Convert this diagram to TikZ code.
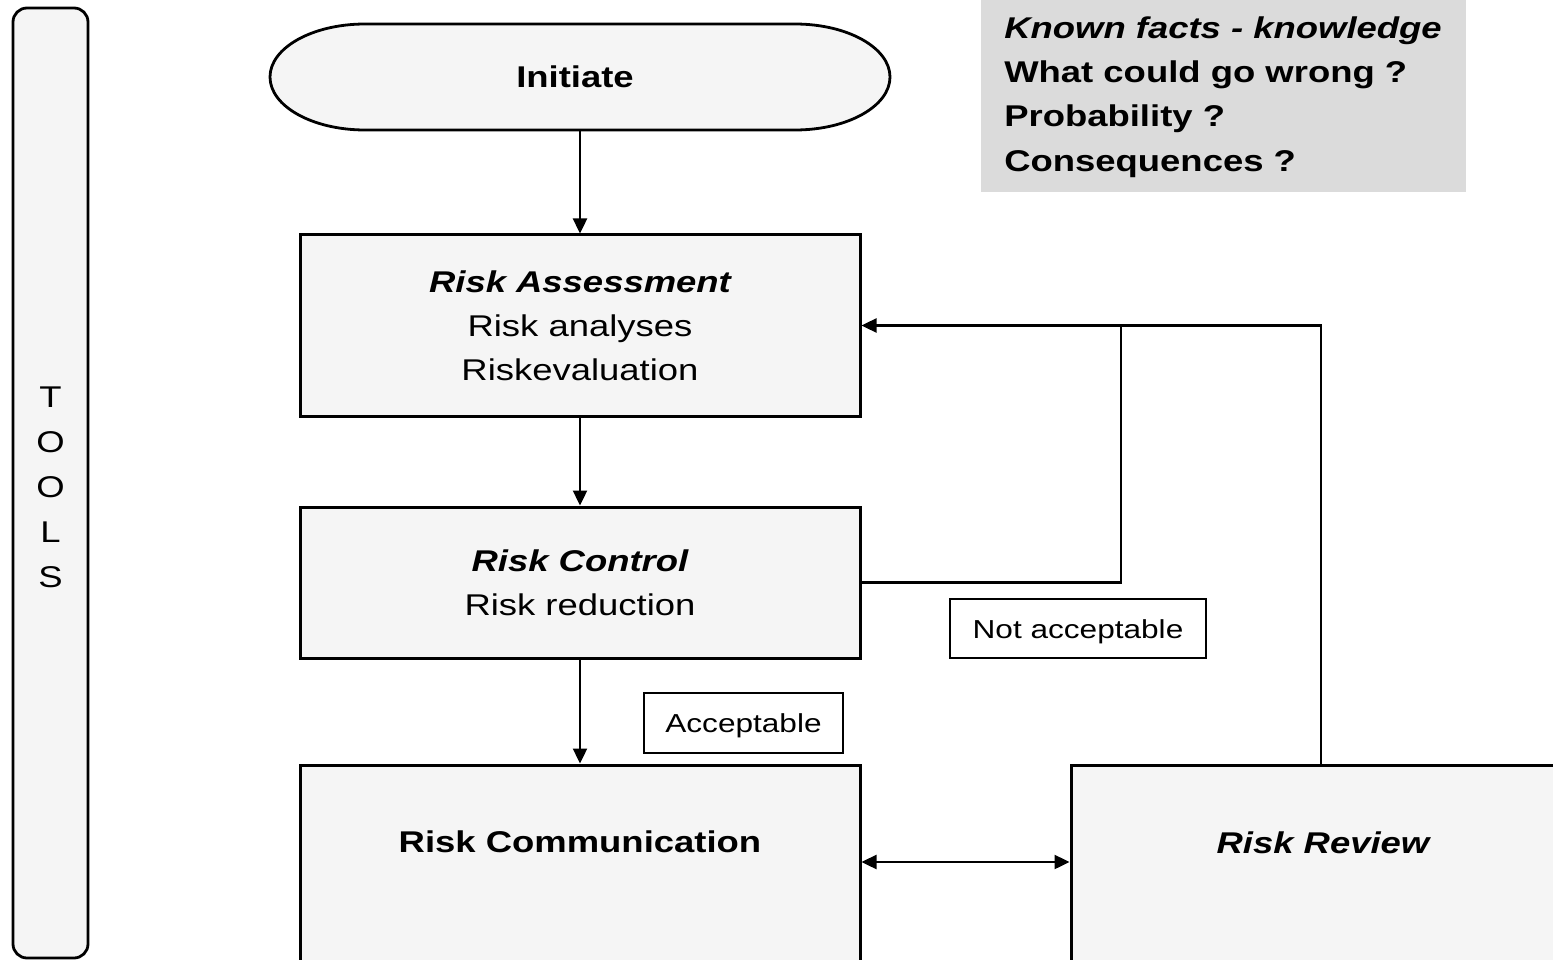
\documentclass[tikz,border=0pt]{standalone}
\usepackage{fontspec}
\setmainfont{Liberation Sans}[FakeStretch=1.215]
\usetikzlibrary{arrows.meta}
\tikzset{
  dotfill/.style={fill=black!4},
  mainbox/.style={draw=black, line width=3pt, dotfill, rectangle, inner sep=0pt},
  txt/.style={font=\fontsize{30}{44}\selectfont, align=center, inner sep=0pt},
  lblbox/.style={draw=black, line width=2.2pt, fill=white, rectangle, inner sep=0pt,
                 text height=25pt, font=\fontsize{26}{30}\selectfont},
  conn/.style={line width=2.4pt},
  tip/.tip={Triangle[length=15pt,width=14pt]},
  arr/.style={conn, -tip},
  darr/.style={conn, tip-tip},
}
\begin{document}
\begin{tikzpicture}[x=1pt,y=-1pt]
\clip (0,0) rectangle (1553,960);
\fill[white] (0,0) rectangle (1553,960);

% TOOLS bar
\node[draw=black, line width=2.8pt, dotfill, rounded corners=14pt,
      minimum width=75pt, minimum height=950pt, inner sep=0pt] (tools) at (50.5,483) {};
\node[font=\fontsize{30}{45}\selectfont, align=center, inner sep=0pt] (toolstxt) at (50.5,487)
      {T\\O\\O\\L\\S};

% Initiate terminator
\draw[line width=2.8pt, dotfill] (365,24) -- (795,24)
   arc[start angle=90, end angle=-90, x radius=95pt, y radius=53pt]
   -- (365,130)
   arc[start angle=-90, end angle=-270, x radius=95pt, y radius=53pt] -- cycle;
\node[txt, font=\fontsize{30}{44}\selectfont\bfseries, minimum width=620pt, minimum height=106pt] (init) at (575,77) {Initiate};

% Known facts box
\node[fill=black!14, minimum width=485pt, minimum height=202pt, inner sep=0pt] (facts) at (1223.5,91) {};
\node[inner sep=0pt, font=\fontsize{30}{44.3}\selectfont\bfseries, align=left] (factstxt) at (1223,97)
  {\itshape Known facts - knowledge\\What could go wrong ?\\Probability ?\\Consequences ?};

% Main boxes
\node[mainbox, txt, minimum width=560pt, minimum height=181pt] (ra) at (580,325.5)
  {{\bfseries\itshape Risk Assessment}\\Risk analyses\\Riskevaluation};
\node[mainbox, txt, minimum width=560pt, minimum height=151pt] (rc) at (580,582.5)
  {{\bfseries\itshape Risk Control}\\Risk reduction};
\node[mainbox, minimum width=560pt, minimum height=203pt] (rcomm) at (580,866.5) {};
\node[txt, font=\fontsize{30}{44}\selectfont\bfseries] (rcommtxt) at (580,842) {Risk Communication};
\node[mainbox, minimum width=500pt, minimum height=203pt] (rr) at (1321,866.5) {};
\node[txt, font=\fontsize{30}{44}\selectfont\bfseries\itshape] (rrtxt) at (1323,843) {Risk Review};

% Labels
\node[lblbox, minimum width=256pt, minimum height=59pt] (notacc) at (1078,628.5) {Not acceptable};
\node[lblbox, minimum width=199pt, minimum height=60pt] (acc) at (743.5,723) {Acceptable};

% Connectors
\coordinate (j1) at (1121,326);
\draw[arr] (init.south -| ra.north) -- (ra.north);
\draw[arr] (ra.south) -- (rc.north);
\draw[arr] (rc.south) -- (rcomm.north);
\draw[conn] (rc.east) -| (j1);
\draw[arr] (rr.north) |- (ra.east);
\draw[darr] ([yshift=4.5pt]rcomm.east) -- ([yshift=4.5pt]rr.west);
\end{tikzpicture}
\end{document}
